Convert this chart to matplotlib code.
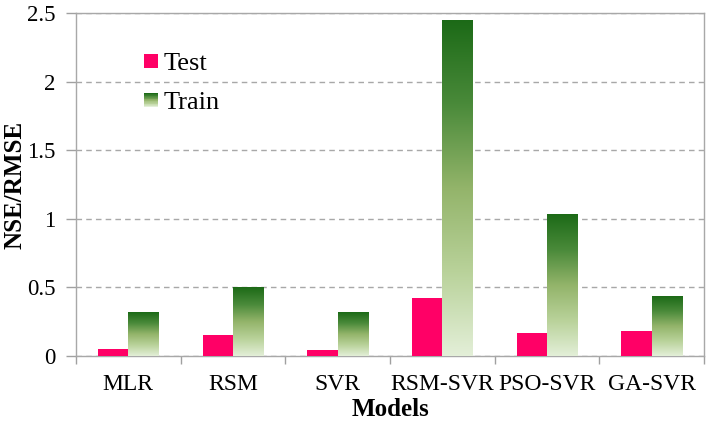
import numpy as np
import matplotlib
matplotlib.use("Agg")
import matplotlib.pyplot as plt
from matplotlib.colors import LinearSegmentedColormap
from matplotlib.legend_handler import HandlerBase
from matplotlib.patches import Rectangle

categories = ["MLR", "RSM", "SVR", "RSM-SVR", "PSO-SVR", "GA-SVR"]
test_vals = [0.053, 0.152, 0.044, 0.42, 0.167, 0.18]
train_vals = [0.32, 0.50, 0.314, 2.447, 1.029, 0.436]
yticks = [0, 0.5, 1, 1.5, 2, 2.5]
ytick_labels = ["0", "0.5", "1", "1.5", "2", "2.5"]

plt.rcParams['font.family'] = ['Liberation Serif', 'DejaVu Serif']

test_color = "#ff0066"
green_cmap = LinearSegmentedColormap.from_list(
    "gr", ["#e3efd8", "#b9d29a", "#93b46a", "#4a8a3a", "#1c6a17"])

fig = plt.figure(figsize=(7.08, 4.21), dpi=100)
ax = fig.add_axes([0.1073, 0.1544, 0.8871, 0.8146])

x = np.arange(len(categories))
w = 0.29
ax.bar(x - w / 2, test_vals, w, color=test_color, zorder=3, label="Test")
train_bars = ax.bar(x + w / 2, train_vals, w, color="none", zorder=3, label="Train")

grad = np.linspace(0, 1, 256).reshape(-1, 1)
for b in train_bars:
    x0, y0 = b.get_x(), b.get_y()
    ax.imshow(grad, cmap=green_cmap, origin="lower", aspect="auto",
              extent=[x0, x0 + b.get_width(), y0, y0 + b.get_height()],
              zorder=3, interpolation="bilinear")

ax.set_xlim(-0.5, len(categories) - 0.5)
ax.set_ylim(0, 2.5)
ax.set_yticks(yticks)
ax.set_yticklabels(ytick_labels, fontsize=16.5)
ax.set_xticks(x)
ax.set_xticklabels(categories, fontsize=17)
ax.set_xticks(np.arange(len(categories) + 1) - 0.5, minor=True)
ax.tick_params(axis="x", which="major", length=0, pad=13)
ax.tick_params(axis="x", which="minor", length=6, color="#a0a0a0", width=1)
ax.tick_params(axis="y", length=7, color="#a0a0a0", width=1, pad=8)
ax.yaxis.grid(True, linestyle=(0, (4, 3)), color="#a8a8a8", linewidth=1, zorder=0)
ax.set_axisbelow(True)
for s in ax.spines.values():
    s.set_color("#a8a8a8")
    s.set_linewidth(1)

ax.set_ylabel("NSE/RMSE", fontsize=18, fontweight="bold")
ax.yaxis.set_label_coords(-0.079, 0.5)
ax.set_xlabel("Models", fontsize=18, fontweight="bold")
ax.xaxis.set_label_coords(0.5, -0.122)


class GradientHandler(HandlerBase):
    def create_artists(self, legend, orig_handle, xdescent, ydescent,
                       width, height, fontsize, trans):
        n = 20
        arts = []
        side = height
        x0 = -xdescent + (width - side) / 2
        y0 = -ydescent
        for i in range(n):
            c = green_cmap(1 - i / (n - 1))
            r = Rectangle((x0, y0 + side - (i + 1) * side / n), side, side / n,
                          facecolor=c, edgecolor="none", transform=trans)
            arts.append(r)
        return arts


class SquareHandler(HandlerBase):
    def create_artists(self, legend, orig_handle, xdescent, ydescent,
                       width, height, fontsize, trans):
        side = height
        x0 = -xdescent + (width - side) / 2
        r = Rectangle((x0, -ydescent), side, side, facecolor=test_color,
                      edgecolor="none", transform=trans)
        return [r]


h_test = Rectangle((0, 0), 1, 1)
h_train = Rectangle((0, 0), 1, 1)
ax.legend([h_test, h_train], ["Test", "Train"],
          handler_map={h_test: SquareHandler(), h_train: GradientHandler()},
          loc="upper left", bbox_to_anchor=(0.072, 0.952), frameon=False,
          fontsize=19, handlelength=0.46, handleheight=0.46, handletextpad=0.25,
          labelspacing=0.65)

fig.savefig("out.png", dpi=100)
